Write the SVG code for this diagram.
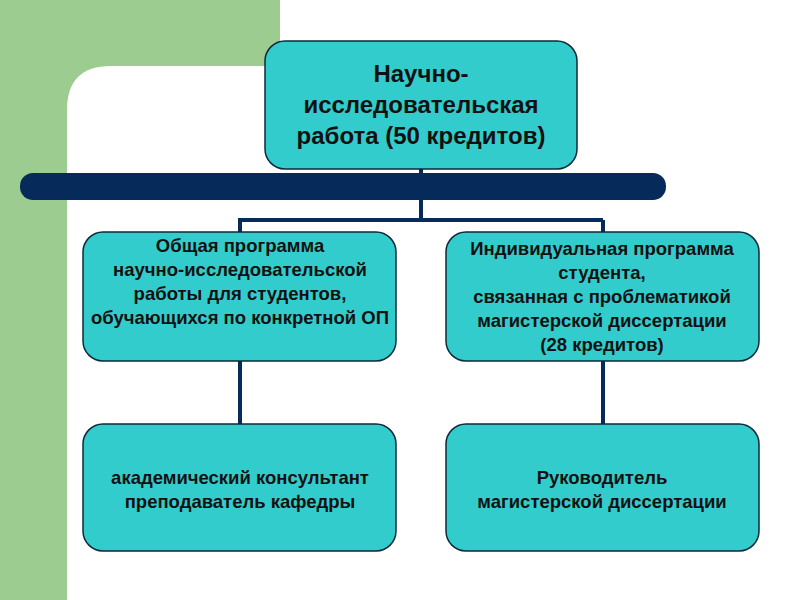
<svg xmlns="http://www.w3.org/2000/svg" width="800" height="600" viewBox="0 0 800 600">
<style>
.n{fill:#33CCCC;stroke:#0d2a3a;stroke-width:1.5}
.t{font-family:"Liberation Sans",Arial,sans-serif;font-weight:bold;fill:#111;text-anchor:middle}
.c{stroke:#062a5a;stroke-width:4;fill:none}
</style>
<rect width="800" height="600" fill="#fff"/>
<rect x="0" y="0" width="280" height="130" fill="#9dcc90"/>
<rect x="0" y="0" width="67" height="600" fill="#9dcc90"/>
<path d="M67 600 V110 Q67 66 111 66 H280 V600 Z" fill="#fff"/>
<rect x="20" y="173" width="646" height="27" rx="13" fill="#062a5a"/>
<g id="connectors">
<path class="c" d="M421 169 V220 M238 220 H603 M240 220 V232 M603 220 V232 M240 361 V424 M603 361 V424"/>
</g>
<g id="top"><rect class="n" x="265" y="41" width="312" height="128" rx="20"/>
<text class="t" font-size="24"><tspan x="421" y="82">Научно-</tspan><tspan x="421" y="113">исследовательская</tspan><tspan x="421" y="144">работа (50 кредитов)</tspan></text></g>
<g id="left"><rect class="n" x="83" y="232" width="313" height="129" rx="20"/>
<text class="t" font-size="18.5"><tspan x="240" y="252">Общая программа</tspan><tspan x="240" y="276">научно-исследовательской</tspan><tspan x="240" y="300">работы для студентов,</tspan><tspan x="240" y="324">обучающихся по конкретной ОП</tspan></text></g>
<g id="right"><rect class="n" x="446" y="232" width="313" height="129" rx="20"/>
<text class="t" font-size="18.5"><tspan x="602" y="255">Индивидуальная программа</tspan><tspan x="602" y="279">студента,</tspan><tspan x="602" y="303">связанная с проблематикой</tspan><tspan x="602" y="327">магистерской диссертации</tspan><tspan x="602" y="351">(28 кредитов)</tspan></text></g>
<g id="bl"><rect class="n" x="83" y="424" width="313" height="127" rx="20"/>
<text class="t" font-size="18.5"><tspan x="240" y="484">академический консультант</tspan><tspan x="240" y="508">преподаватель кафедры</tspan></text></g>
<g id="br"><rect class="n" x="446" y="424" width="313" height="127" rx="20"/>
<text class="t" font-size="18.5"><tspan x="602" y="484">Руководитель</tspan><tspan x="602" y="508">магистерской диссертации</tspan></text></g>
</svg>
